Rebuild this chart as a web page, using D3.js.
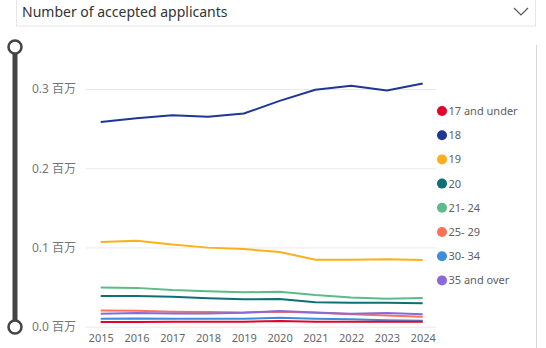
<!DOCTYPE html>
<html>
<head>
<meta charset="utf-8">
<script src="https://cdn.jsdelivr.net/npm/d3@7"></script>
<style>
  body { margin: 0; background: #fff; }
  svg { display: block; font-family: "Noto Sans", "Noto Sans CJK SC", sans-serif; }
</style>
</head>
<body>
<div id="chart"></div>
<script>
// data (values in millions)
var years = [2015, 2016, 2017, 2018, 2019, 2020, 2021, 2022, 2023, 2024];
var groups = ["17 and under", "18", "19", "20", "21- 24", "25- 29", "30- 34", "35 and over"];
var colors = ["#E5002B", "#1F3794", "#FDB01A", "#0F6F77", "#5DBA8B", "#FA725A", "#3A8EDB", "#8A6ADA"];
var yTicks = [0, 0.1, 0.2, 0.3];

var under17 = [0.0058, 0.0060, 0.0061, 0.0062, 0.0063, 0.0072, 0.0062, 0.0063, 0.0063, 0.0063];
var age18 = [0.2585, 0.263, 0.267, 0.265, 0.269, 0.285, 0.299, 0.304, 0.298, 0.307];
var age19 = [0.107, 0.1086, 0.1036, 0.0998, 0.098, 0.0943, 0.0846, 0.0846, 0.085, 0.0842];
var age20 = [0.0388, 0.0388, 0.0379, 0.0358, 0.0346, 0.035, 0.0308, 0.0303, 0.0303, 0.0295];
var age21 = [0.0494, 0.049, 0.0463, 0.0447, 0.0434, 0.0442, 0.040, 0.037, 0.0354, 0.0362];
var age25 = [0.0204, 0.0202, 0.019, 0.0185, 0.018, 0.019, 0.0175, 0.0156, 0.014, 0.0126];
var age30 = [0.0099, 0.0105, 0.0100, 0.0100, 0.0100, 0.0113, 0.0100, 0.0093, 0.0080, 0.0076];
var age35 = [0.0164, 0.0172, 0.0168, 0.0168, 0.0177, 0.0198, 0.0180, 0.0164, 0.0172, 0.0156];
var series = [under17, age18, age19, age20, age21, age25, age30, age35];

var svgWidth = 546, svgHeight = 348;
var svg = d3.select("#chart").append("svg")
    .attr("width", svgWidth)
    .attr("height", svgHeight);

// dropdown header
svg.append("rect")
    .attr("x", 16.5).attr("y", -1)
    .attr("width", 519).attr("height", 27)
    .attr("fill", "#fff").attr("stroke", "#e6e6e6");
svg.append("text")
    .attr("x", 22).attr("y", 17)
    .attr("font-size", 14).attr("fill", "#333")
    .text("Number of accepted applicants");
svg.append("path")
    .attr("d", "M514,8 L521,15 L528,8")
    .attr("fill", "none").attr("stroke", "#555").attr("stroke-width", 1.2);

// right border
svg.append("line")
    .attr("x1", 536.5).attr("x2", 536.5).attr("y1", 45).attr("y2", 348)
    .attr("stroke", "#d6d6d6");

// slider
svg.append("line")
    .attr("x1", 15).attr("x2", 15).attr("y1", 50).attr("y2", 324)
    .attr("stroke", "#444").attr("stroke-width", 5);
[47, 327].forEach(function (cy) {
    svg.append("circle")
        .attr("cx", 15).attr("cy", cy).attr("r", 6.5)
        .attr("fill", "#fff").attr("stroke", "#444").attr("stroke-width", 2.5);
});

// scales
var x = d3.scalePoint().domain(years).range([100.7, 422.7]);
var y = d3.scaleLinear().domain([0, 0.3]).range([326.7, 89]);

// grid
var grid = svg.append("g")
    .attr("transform", "translate(86,0)")
    .call(d3.axisLeft(y).tickValues(yTicks).tickSize(-350).tickFormat(function (d) { return d.toFixed(1) + " 百万"; }));
grid.select(".domain").remove();
grid.selectAll(".tick line").attr("stroke", "#e9e9e9");
grid.selectAll(".tick text")
    .attr("x", -10)
    .attr("fill", "#777").attr("font-size", 12)
    .attr("font-family", "'Noto Sans', 'Noto Sans CJK SC', sans-serif");

// x axis
var xAxis = svg.append("g")
    .attr("transform", "translate(0,326.7)")
    .call(d3.axisBottom(x).tickSize(0).tickPadding(8));
xAxis.select(".domain").remove();
xAxis.selectAll(".tick text")
    .attr("fill", "#666").attr("font-size", 11)
    .attr("font-family", "'Noto Sans', sans-serif");

// lines
var line = d3.line()
    .x(function (d, i) { return x(years[i]); })
    .y(function (d) { return y(d); });

var drawOrder = [1, 2, 4, 3, 5, 7, 6, 0];
drawOrder.forEach(function (k) {
    svg.append("path")
        .datum(series[k])
        .attr("d", line)
        .attr("fill", "none")
        .attr("stroke", colors[k])
        .attr("stroke-width", 2)
        .attr("stroke-linejoin", "round");
});

// legend
var legend = svg.append("g");
groups.forEach(function (g, i) {
    var ly = 111 + i * 24.2;
    legend.append("circle")
        .attr("cx", 442).attr("cy", ly).attr("r", 5)
        .attr("fill", colors[i]);
    legend.append("text")
        .attr("x", 448.5).attr("y", ly + 4)
        .attr("font-size", 11).attr("fill", "#606060")
        .text(g);
});
</script>
</body>
</html>
